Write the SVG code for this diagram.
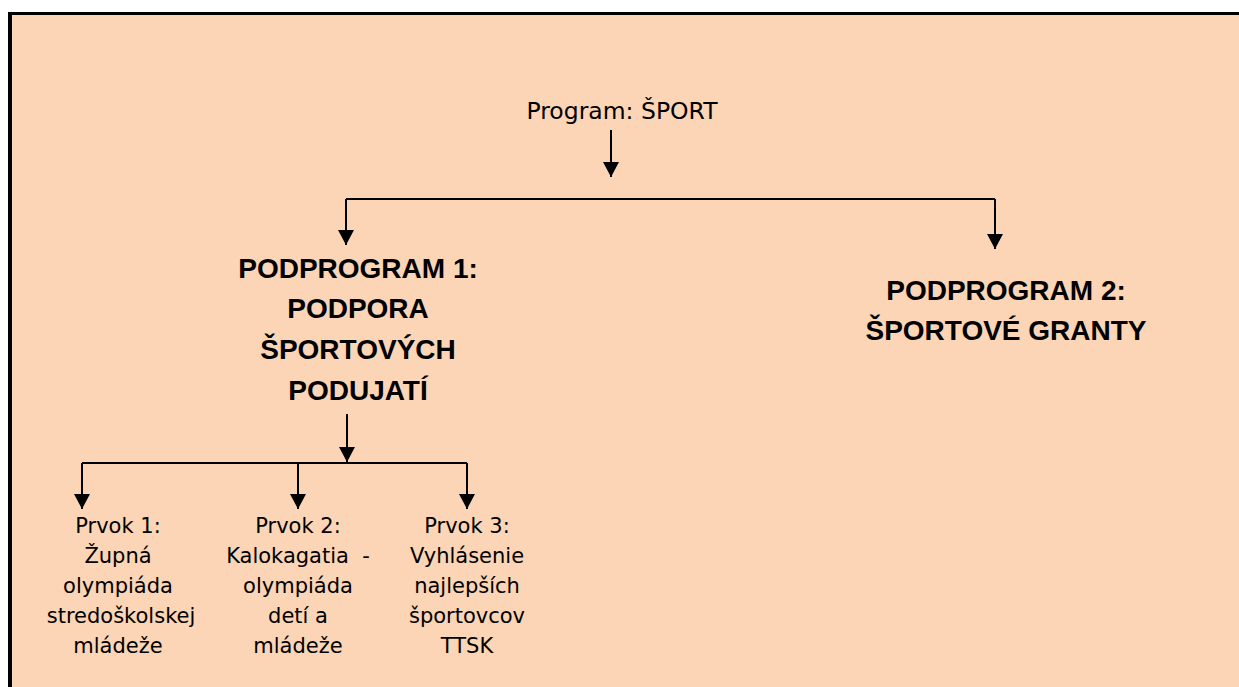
<svg xmlns="http://www.w3.org/2000/svg" width="1239" height="687" viewBox="0 0 1239 687">
<style>
.bg{fill:#FBD5B5}
.frame{fill:#000}
.conn{fill:none;stroke:#000;stroke-width:2}
.t{font-family:"DejaVu Sans",Verdana,sans-serif;fill:#000;text-anchor:middle}
.top{font-size:23.5px}
.sub{font-family:"Liberation Sans",Arial,sans-serif;font-weight:bold;font-size:28px;fill:#000;text-anchor:middle}
.el{font-size:21px}
</style>
<defs>
<marker id="ah" markerUnits="userSpaceOnUse" viewBox="0 0 15 16" refX="15" refY="8" markerWidth="15" markerHeight="16" orient="auto">
<path d="M0,0 L15,8 L0,16 Z" fill="#000"/>
</marker>
</defs>
<rect x="0" y="0" width="1239" height="687" fill="#fff"/>
<rect class="bg" x="12" y="15" width="1227" height="672"/>
<rect class="frame" x="8" y="12" width="1231" height="3"/>
<rect class="frame" x="8" y="12" width="4" height="675"/>
<g id="connectors">
<path class="conn" d="M611,130 V177" marker-end="url(#ah)"/>
<path class="conn" d="M346,199 H995"/>
<path class="conn" d="M346,199 V245" marker-end="url(#ah)"/>
<path class="conn" d="M995,199 V249" marker-end="url(#ah)"/>
<path class="conn" d="M347,414 V462" marker-end="url(#ah)"/>
<path class="conn" d="M82,463 H467"/>
<path class="conn" d="M82,463 V509" marker-end="url(#ah)"/>
<path class="conn" d="M298,463 V509" marker-end="url(#ah)"/>
<path class="conn" d="M467,463 V509" marker-end="url(#ah)"/>
</g>
<g id="program">
<text class="t top" x="622" y="119">Program: ŠPORT</text>
</g>
<g id="podprogram1">
<text class="sub" x="358" y="278">PODPROGRAM 1:</text>
<text class="sub" x="358" y="318">PODPORA</text>
<text class="sub" x="358" y="359">ŠPORTOVÝCH</text>
<text class="sub" x="358" y="400">PODUJATÍ</text>
</g>
<g id="podprogram2">
<text class="sub" x="1006" y="300">PODPROGRAM 2:</text>
<text class="sub" x="1006" y="340">ŠPORTOVÉ GRANTY</text>
</g>
<g id="prvok1">
<text class="t el" x="118" y="533">Prvok 1:</text>
<text class="t el" x="118" y="563">Župná</text>
<text class="t el" x="118" y="593">olympiáda</text>
<text class="t el" x="121" y="623">stredoškolskej</text>
<text class="t el" x="118" y="653">mládeže</text>
</g>
<g id="prvok2">
<text class="t el" x="298" y="533">Prvok 2:</text>
<text class="t el" x="298" y="563" xml:space="preserve">Kalokagatia  -</text>
<text class="t el" x="298" y="593">olympiáda</text>
<text class="t el" x="298" y="623">detí a</text>
<text class="t el" x="298" y="653">mládeže</text>
</g>
<g id="prvok3">
<text class="t el" x="467" y="533">Prvok 3:</text>
<text class="t el" x="467" y="563">Vyhlásenie</text>
<text class="t el" x="467" y="593">najlepších</text>
<text class="t el" x="467" y="623">športovcov</text>
<text class="t el" x="467" y="653">TTSK</text>
</g>
</svg>
